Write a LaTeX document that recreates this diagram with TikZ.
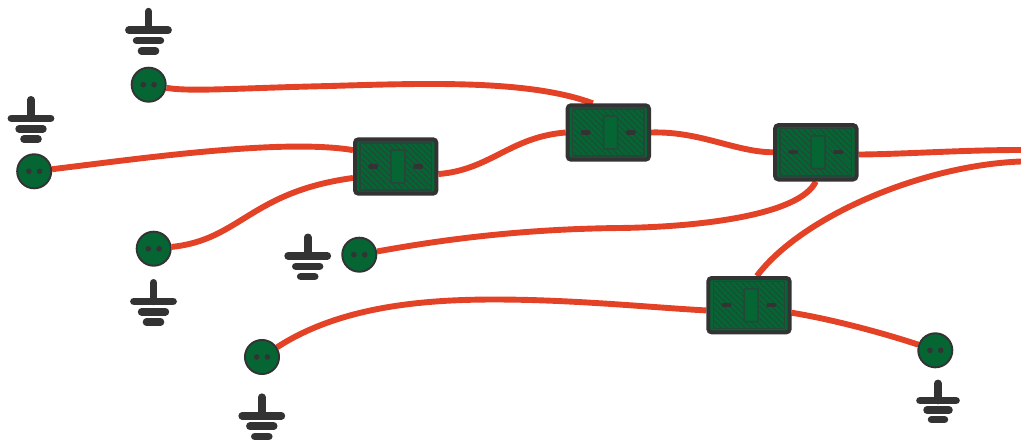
\documentclass[tikz,border=0pt]{standalone}
\usetikzlibrary{patterns.meta}
\definecolor{wire}{HTML}{E34226}
\definecolor{dk}{HTML}{333333}
\definecolor{gr}{HTML}{056533}
\definecolor{hatch}{HTML}{24473A}
\pgfdeclarelayer{wires}
\pgfsetlayers{wires,main}
\tikzset{
  wirepath/.style={draw=wire,line width=5.9pt},
  fusebody/.style={draw=dk,fill=gr,line width=4pt,rounded corners=3.5pt,minimum width=81.4pt,minimum height=54.4pt,inner sep=0pt,rectangle},
  fuseinner/.style={draw=hatch,line width=1.3pt,pattern={Lines[angle=-45,distance=4pt,line width=1.3pt]},pattern color=hatch},
  fusecore/.style={draw=hatch,fill=gr,line width=1.5pt,rounded corners=1pt},
  fusedash/.style={draw=dk,line width=4.2pt,line cap=round},
  term/.style={circle,draw=dk,fill=gr,line width=1.9pt,minimum size=34.1pt,inner sep=0pt},
  termdot/.style={circle,fill=dk,minimum size=5.6pt,inner sep=0pt},
  gndline/.style={draw=dk,line width=7.6pt,line cap=round},
}
\newcommand{\fusebox}[3]{%
  \node[fusebody] (#1) at (#2,#3) {};
  \begin{scope}[shift={(#2,#3)}]
    \path[fuseinner] (-35.8,-23.6) rectangle (35.8,23.6);
    \path[fusecore] (-4.8,-16.4) rectangle (9.2,16.4);
    \path[fusedash] (-25.5,0) -- (-19.5,0);
    \path[fusedash] (19.5,0) -- (25.5,0);
  \end{scope}}
\newcommand{\terminal}[3]{%
  \node[term] (#1) at (#2,#3) {};
  \node[termdot] at (#2-5.4,#3) {};
  \node[termdot] at (#2+5.4,#3) {};}
\newcommand{\ground}[3][1]{%
  \begin{scope}[shift={(#2,#3)},x=#1pt,y=-#1pt]
    \path[gndline] (0,0) -- (0,18.6);
    \path[gndline] (-19.6,18.6) -- (19.6,18.6);
    \path[gndline] (-11.9,29) -- (11.9,29);
    \path[gndline] (-7,39.3) -- (7,39.3);
  \end{scope}}
\begin{document}
\begin{tikzpicture}[x=1pt,y=-1pt]
\useasboundingbox (0,0) rectangle (1021,444);
\fusebox{b1}{395.7}{166.5}
\fusebox{b2}{608.3}{132.5}
\fusebox{b3}{815.8}{152.3}
\fusebox{b4}{749}{305.2}
\terminal{t1}{148.7}{84.7}
\terminal{t2}{34.2}{171.3}
\terminal{t3}{153.7}{248.7}
\terminal{t4}{359.3}{254.7}
\terminal{t5}{262}{357}
\terminal{t6}{935.3}{350.3}
\ground{148.5}{11.6}
\ground{31}{99.8}
\ground{153.5}{282.8}
\ground{307.7}{237.3}
\ground{261.8}{397.2}
\ground[.92]{938}{383.4}
\coordinate (e1) at (1021,150);
\coordinate (e2) at (1021,161.5);
\begin{pgfonlayer}{wires}
\path[fill=white] (0,0) rectangle (1021,444);
\path[wirepath] (t1) .. controls (190,92) and (240,88) .. (330,86) .. controls (430,83) and (530,80) .. (b2.118);
\path[wirepath] (t2) .. controls (130,160) and (280,138) .. (b1.159);
\path[wirepath] (t3) .. controls (240,240) and (250,192) .. (b1.195);
\path[wirepath] (b1.-10) .. controls (490,170) and (510,137) .. (b2.west);
\path[wirepath] (b2.east) .. controls (700,131) and (735,152) .. (b3.west);
\path[wirepath] (b3.-3) .. controls (910,154) and (960,150) .. (e1);
\path[wirepath] (t4) .. controls (440,240) and (520,229) .. (620,228) .. controls (700,227) and (800,215) .. (b3.south);
\path[wirepath] (b4.75) .. controls (803,215) and (925,165) .. (e2);
\path[wirepath] (t5) .. controls (350,300) and (450,298) .. (530,300) .. controls (600,302) and (660,308) .. (b4.187);
\path[wirepath] (b4.-10.6) .. controls (830,319) and (880,332) .. (t6);
\end{pgfonlayer}
\end{tikzpicture}
\end{document}
